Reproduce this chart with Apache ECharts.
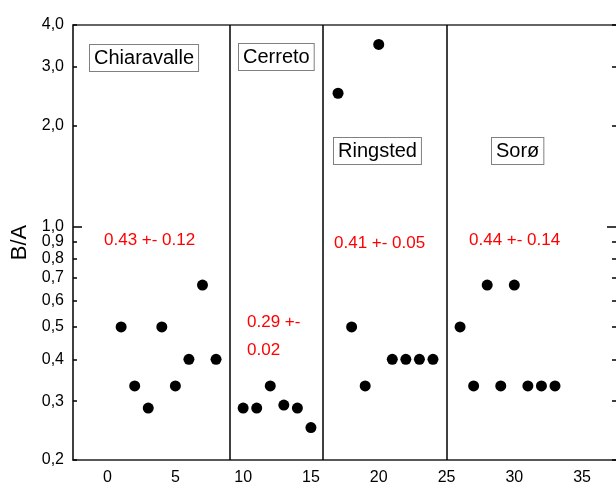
<!DOCTYPE html>
<html>
<head>
<meta charset="utf-8">
<script src="https://cdn.jsdelivr.net/npm/echarts@6/dist/echarts.min.js"></script>
<style>
  html, body { margin: 0; padding: 0; background: #fff; }
  #chart { width: 616px; height: 486px; }
</style>
</head>
<body>
<div id="chart"></div>
<script>
// B/A ratios per sample, grouped by site
const sites = ['Chiaravalle', 'Cerreto', 'Ringsted', 'Sorø'];

const xChiaravalle = [1, 2, 3, 4, 5, 6, 7, 8];
const yChiaravalle = [0.5, 0.333, 0.286, 0.5, 0.333, 0.4, 0.667, 0.4];

const xCerreto = [10, 11, 12, 13, 14, 15];
const yCerreto = [0.286, 0.286, 0.333, 0.292, 0.286, 0.25];

const xRingsted = [17, 18, 19, 20, 21, 22, 23, 24];
const yRingsted = [2.5, 0.5, 0.333, 3.5, 0.4, 0.4, 0.4, 0.4];

const xSoro = [26, 27, 28, 29, 30, 31, 32, 33];
const ySoro = [0.5, 0.333, 0.667, 0.333, 0.667, 0.333, 0.333, 0.333];

// site boundaries on the x axis
const dividers = [9, 15.9, 25];

// mean +- sd per site
const summaries = ['0.43 +- 0.12', '0.29 +-\n0.02', '0.41 +- 0.05', '0.44 +- 0.14'];

const yTicks = [0.2, 0.3, 0.4, 0.5, 0.6, 0.7, 0.8, 0.9, 1.0, 2.0, 3.0, 4.0];
const yMajor = [1.0];
const xTicks = [0, 5, 10, 15, 20, 25, 30, 35];

const FONT = 'Liberation Sans, Arial, sans-serif';

function pairs(xs, ys) {
  return xs.map((x, i) => [x, ys[i]]);
}

const chart = echarts.init(document.getElementById('chart'), null, { renderer: 'canvas' });

const yCommon = { type: 'log', logBase: 10, min: 0.2, max: 4, splitLine: { show: false } };
const tickLine = { color: '#000', width: 1.5 };

function dotSeries(name, data) {
  return {
    name: name,
    type: 'scatter',
    xAxisIndex: 0,
    yAxisIndex: 0,
    symbol: 'circle',
    symbolSize: 11,
    itemStyle: { color: '#000', opacity: 1 },
    data: data,
    z: 5
  };
}

const boxStyle = {
  fill: '#000',
  font: '20px ' + FONT,
  backgroundColor: '#fff',
  borderColor: '#808080',
  borderWidth: 1,
  padding: [3, 4, 3, 4],
  textVerticalAlign: 'top'
};

const redStyle = {
  fill: '#ff0000',
  font: '17px ' + FONT,
  lineHeight: 28,
  textVerticalAlign: 'middle'
};

const option = {
  backgroundColor: '#fff',
  animation: false,
  grid: { left: 73, top: 25, width: 544, height: 437, containLabel: false },
  xAxis: [
    {
      type: 'value',
      position: 'bottom',
      min: -2.55,
      max: 37.5,
      axisLine: { show: true, onZero: false, lineStyle: { color: '#222', width: 1.5 } },
      axisTick: { show: false },
      splitLine: { show: false },
      axisLabel: {
        customValues: xTicks,
        color: '#000',
        fontSize: 16,
        fontFamily: FONT,
        margin: 10
      }
    },
    {
      type: 'value',
      position: 'top',
      min: -2.55,
      max: 37.5,
      axisLine: { show: true, onZero: false, lineStyle: { color: '#333', width: 1.5 } },
      axisTick: { show: false },
      axisLabel: { show: false },
      splitLine: { show: false }
    }
  ],
  yAxis: [
    Object.assign({}, yCommon, {
      position: 'left',
      name: 'B/A',
      nameLocation: 'middle',
      nameGap: 35,
      nameTextStyle: { color: '#000', fontSize: 22, fontFamily: FONT },
      axisLine: { show: true, onZero: false, lineStyle: { color: '#000', width: 1.5 } },
      axisTick: { show: true, inside: true, length: 4, customValues: yTicks, lineStyle: tickLine },
      axisLabel: {
        customValues: yTicks,
        color: '#000',
        fontSize: 16,
        fontFamily: FONT,
        margin: 9,
        formatter: v => Number(v).toFixed(1).replace('.', ',')
      }
    }),
    Object.assign({}, yCommon, {
      position: 'left',
      axisLine: { show: false, onZero: false },
      axisTick: { show: true, inside: true, length: 9, customValues: yMajor, lineStyle: tickLine },
      axisLabel: { show: false, customValues: yMajor }
    }),
    Object.assign({}, yCommon, {
      position: 'right',
      axisLine: { show: false, onZero: false },
      axisTick: { show: true, inside: true, length: 4, customValues: yTicks, lineStyle: tickLine },
      axisLabel: { show: false, customValues: yTicks }
    }),
    Object.assign({}, yCommon, {
      position: 'right',
      axisLine: { show: false, onZero: false },
      axisTick: { show: true, inside: true, length: 9, customValues: yMajor, lineStyle: tickLine },
      axisLabel: { show: false, customValues: yMajor }
    })
  ],
  series: [
    dotSeries(sites[0], pairs(xChiaravalle, yChiaravalle)),
    dotSeries(sites[1], pairs(xCerreto, yCerreto)),
    dotSeries(sites[2], pairs(xRingsted, yRingsted)),
    Object.assign(dotSeries(sites[3], pairs(xSoro, ySoro)), {
      markLine: {
        silent: true,
        symbol: ['none', 'none'],
        label: { show: false },
        lineStyle: { color: '#000', width: 1.5, type: 'solid' },
        data: dividers.map(v => ({ xAxis: v }))
      }
    })
  ],
  graphic: [
    { type: 'text', left: 89, top: 44, z: 10, style: Object.assign({ text: sites[0] }, boxStyle) },
    { type: 'text', left: 238, top: 43, z: 10, style: Object.assign({ text: sites[1] }, boxStyle) },
    { type: 'text', left: 333, top: 137, z: 10, style: Object.assign({ text: sites[2] }, boxStyle) },
    { type: 'text', left: 491, top: 137, z: 10, style: Object.assign({ text: sites[3] }, boxStyle) },
    { type: 'text', left: 104, top: 226, z: 10, style: Object.assign({ text: summaries[0] }, redStyle) },
    { type: 'text', left: 247, top: 308, z: 10, style: Object.assign({ text: summaries[1] }, redStyle) },
    { type: 'text', left: 334, top: 229, z: 10, style: Object.assign({ text: summaries[2] }, redStyle) },
    { type: 'text', left: 469, top: 226, z: 10, style: Object.assign({ text: summaries[3] }, redStyle) }
  ]
};

chart.setOption(option);
</script>
</body>
</html>
